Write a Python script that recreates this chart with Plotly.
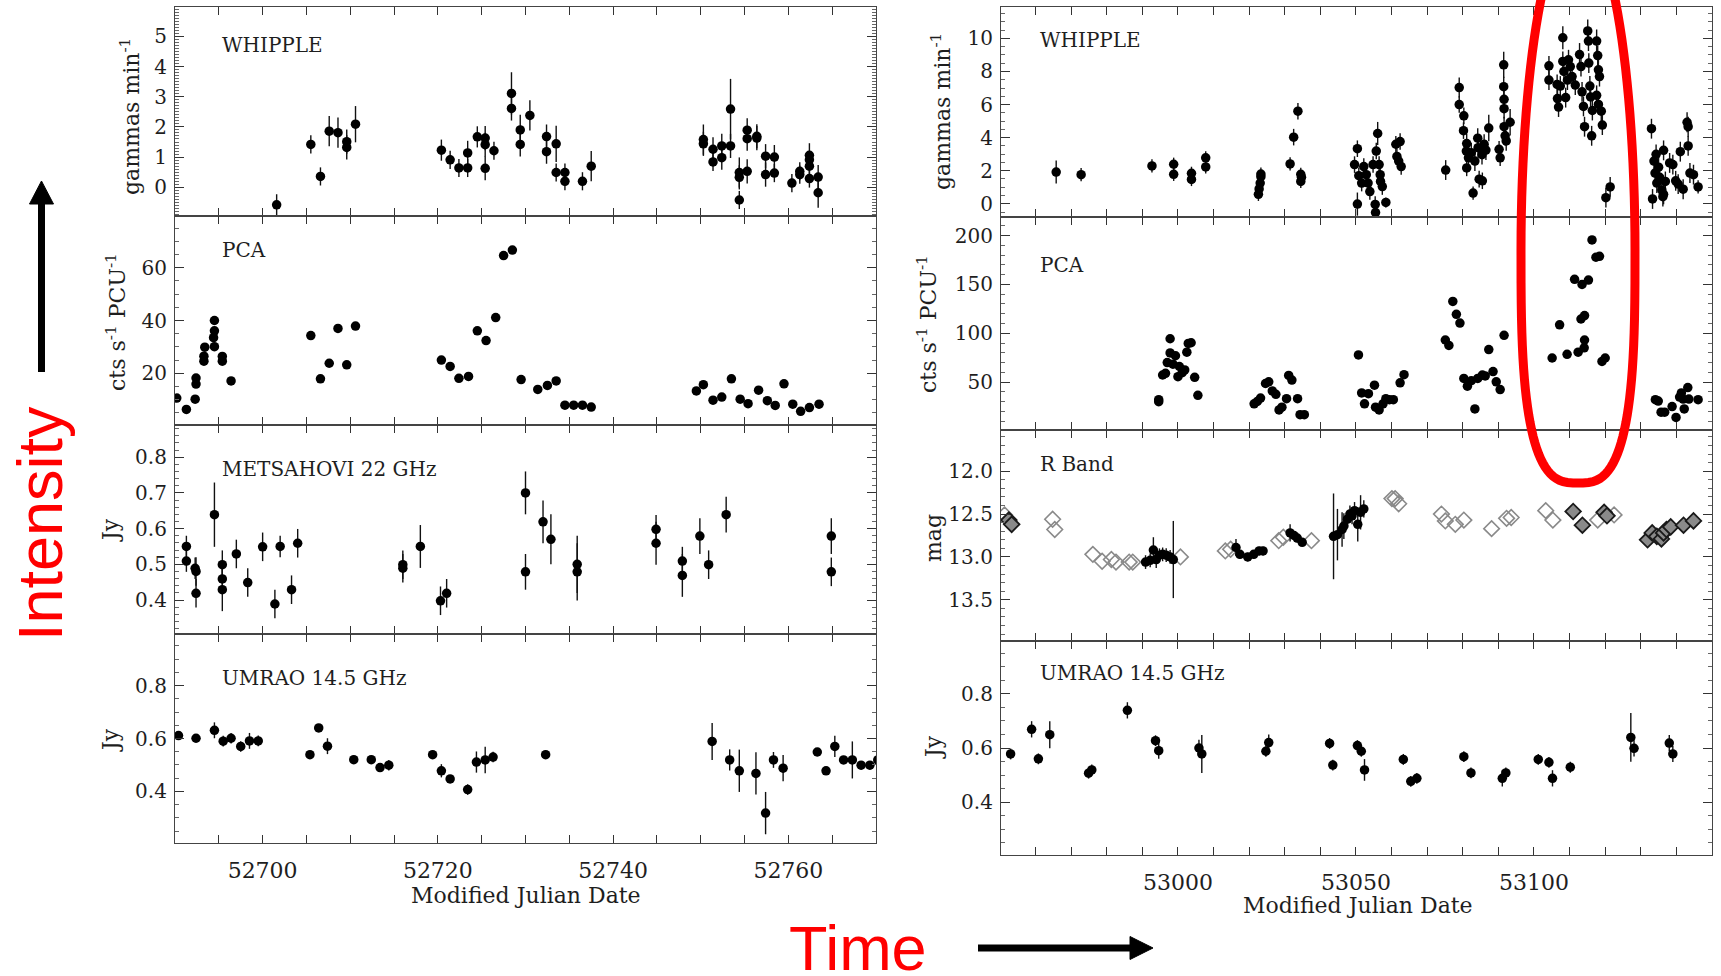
import plotly.graph_objects as go
import numpy as np

W, H = 1721, 976


def px(x):
    return x / W


def py(y):
    return 1 - y / H


# ------------------------------------------------------------------ data
# ---- left column (2003 campaign), MJD 52690 - 52770
L_whip_day = [52701.6, 52705.5, 52706.6, 52707.6, 52708.6, 52709.6, 52709.6, 52710.6,
              52720.4, 52721.4, 52722.4, 52723.4, 52723.4, 52724.5, 52725.4, 52725.4, 52725.4,
              52726.4, 52728.4, 52728.4, 52729.4, 52729.4, 52730.5, 52732.4, 52732.4, 52733.5,
              52733.5, 52734.5, 52734.5, 52736.5, 52737.5,
              52750.3, 52750.3, 52751.4, 52751.4, 52752.4, 52752.4, 52753.4, 52753.4, 52754.4,
              52754.4, 52754.4, 52755.3, 52755.3, 52755.3, 52756.4, 52756.4, 52757.4, 52757.4,
              52758.4, 52758.4, 52760.4, 52761.3, 52761.3, 52762.4, 52762.4, 52762.4, 52762.4,
              52763.4, 52763.4]
L_whip_val = [-0.58, 1.42, 0.36, 1.86, 1.81, 1.51, 1.32, 2.09,
              1.23, 0.91, 0.64, 0.64, 1.14, 1.67, 1.63, 1.41, 0.63,
              1.21, 3.11, 2.61, 1.90, 1.42, 2.38, 1.68, 1.18, 1.44,
              0.49, 0.49, 0.20, 0.20, 0.70,
              1.58, 1.44, 1.26, 0.84, 1.37, 0.98, 2.59, 1.37, 0.49,
              0.33, -0.42, 1.89, 1.61, 0.53, 1.69, 1.63, 1.03, 0.42,
              1.00, 0.47, 0.14, 0.53, 0.42, 1.06, 0.91, 0.70, 0.29,
              0.34, -0.18]
L_whip_err = [0.35, 0.3, 0.3, 0.5, 0.5, 0.4, 0.4, 0.6,
              0.35, 0.3, 0.3, 0.3, 0.4, 0.35, 0.4, 0.4, 0.4,
              0.3, 0.7, 0.4, 0.5, 0.4, 0.5, 0.4, 0.4, 0.6,
              0.3, 0.3, 0.3, 0.3, 0.5,
              0.5, 0.4, 0.4, 0.3, 0.4, 0.4, 1.0, 0.4, 0.5,
              0.4, 0.3, 0.4, 0.4, 0.4, 0.4, 0.4, 0.4, 0.4,
              0.4, 0.3, 0.3, 0.3, 0.3, 0.4, 0.3, 0.3, 0.3,
              0.4, 0.5]

L_pca_day = [52690.2, 52691.3, 52692.3, 52692.4, 52692.4, 52693.3, 52693.3, 52693.4, 52694.5,
             52694.4, 52694.5, 52694.5, 52695.4, 52695.4, 52696.4,
             52705.5, 52706.6, 52707.6, 52708.6, 52709.6, 52710.6,
             52720.4, 52721.4, 52722.4, 52723.5, 52724.5, 52725.5, 52726.6, 52727.5, 52728.5,
             52729.5, 52731.4, 52732.5, 52733.5, 52734.5, 52735.5, 52736.5, 52737.5,
             52749.5, 52750.3, 52751.4, 52752.4, 52753.5, 52754.5, 52755.4, 52756.6, 52757.6,
             52758.5, 52759.5, 52760.5, 52761.4, 52762.4, 52763.5]
L_pca_val = [10.6, 6.3, 10.2, 15.9, 18.2, 24.6, 26.5, 29.9, 30.1,
             33.5, 36.1, 40.0, 24.6, 26.4, 17.1,
             34.3, 17.9, 23.8, 37.0, 23.2, 37.9,
             25.0, 22.6, 18.1, 18.8, 36.1, 32.4, 41.1, 64.6, 66.7,
             17.6, 13.9, 15.4, 17.1, 7.9, 7.9, 7.9, 7.2,
             13.3, 15.7, 9.8, 11.0, 17.9, 10.2, 8.5, 13.6, 9.6,
             7.8, 16.0, 8.3, 5.6, 7.0, 8.3]

L_met_day = [52691.3, 52691.3, 52692.3, 52692.4, 52692.4, 52694.5, 52695.4, 52695.4, 52695.4,
             52697.0, 52698.3, 52700.0, 52701.4, 52702.0, 52703.3, 52704.0,
             52716.0, 52716.0, 52718.0, 52720.3, 52721.0,
             52730.0, 52730.0, 52732.0, 52732.9, 52735.9, 52735.9,
             52744.9, 52744.9, 52747.9, 52747.9, 52749.9, 52750.9, 52752.9, 52764.9, 52764.9]
L_met_val = [0.550, 0.509, 0.489, 0.480, 0.419, 0.639, 0.499, 0.459, 0.429,
             0.529, 0.449, 0.549, 0.389, 0.550, 0.429, 0.559,
             0.499, 0.489, 0.550, 0.398, 0.419,
             0.700, 0.479, 0.619, 0.570, 0.500, 0.479,
             0.598, 0.559, 0.509, 0.469, 0.579, 0.499, 0.639, 0.579, 0.479]
L_met_err = [0.03, 0.03, 0.03, 0.04, 0.04, 0.09, 0.04, 0.04, 0.06,
             0.04, 0.04, 0.04, 0.04, 0.03, 0.04, 0.04,
             0.04, 0.04, 0.06, 0.04, 0.04,
             0.06, 0.05, 0.06, 0.07, 0.08, 0.08,
             0.04, 0.06, 0.04, 0.06, 0.05, 0.04, 0.05, 0.05, 0.04]

L_umr_day = [52690.4, 52692.4, 52694.5, 52695.5, 52696.4, 52697.5, 52698.5, 52699.5,
             52705.4, 52706.4, 52707.4, 52710.4, 52712.4, 52713.4, 52714.4,
             52719.4, 52720.4, 52721.4, 52723.4, 52724.4, 52725.4, 52726.3, 52732.3,
             52751.3, 52753.3, 52754.4, 52756.3, 52757.4, 52758.3, 52759.4,
             52763.3, 52764.3, 52765.3, 52766.3, 52767.3, 52768.3, 52769.3, 52770.2]
L_umr_val = [0.611, 0.601, 0.631, 0.590, 0.601, 0.570, 0.591, 0.591,
             0.539, 0.640, 0.571, 0.520, 0.520, 0.490, 0.499,
             0.539, 0.478, 0.447, 0.407, 0.511, 0.519, 0.530, 0.539,
             0.589, 0.519, 0.478, 0.468, 0.318, 0.519, 0.488,
             0.549, 0.478, 0.570, 0.519, 0.519, 0.499, 0.499, 0.519]
L_umr_err = [0.015, 0.01, 0.03, 0.02, 0.02, 0.02, 0.03, 0.02,
             0.015, 0.015, 0.03, 0.015, 0.015, 0.015, 0.02,
             0.015, 0.025, 0.015, 0.02, 0.04, 0.05, 0.02, 0.015,
             0.07, 0.04, 0.08, 0.08, 0.08, 0.03, 0.05,
             0.015, 0.015, 0.04, 0.015, 0.07, 0.015, 0.015, 0.015]

# ---- right column (2004 campaign), MJD 52950 - 53150
R_whip_day = [52965.8, 52972.8, 52992.7, 52998.8, 52998.8, 53003.8, 53003.8, 53007.8, 53007.8,
              53022.6, 53022.8, 53023.1, 53023.3, 53023.3, 53031.5, 53032.5, 53033.7, 53034.5,
              53034.5, 53034.7,
              53049.6, 53050.4, 53050.4, 53050.8, 53051.6, 53052.2, 53052.9, 53053.4, 53053.9,
              53054.8, 53055.4, 53055.5, 53055.7, 53056.1, 53056.5, 53056.8, 53056.9, 53057.4,
              53058.4, 53061.2, 53061.5, 53062.0, 53062.7, 53062.4,
              53075.2, 53079.0, 53079.0, 53080.3, 53080.2, 53081.1, 53081.0, 53081.1, 53081.6,
              53082.4, 53082.9, 53083.4, 53084.2, 53084.3, 53084.6, 53085.4, 53085.5, 53086.0,
              53086.5, 53087.3, 53090.2, 53090.5, 53091.5, 53091.5, 53091.6, 53091.6, 53091.6,
              53091.9, 53092.2, 53093.3,
              53104.2, 53104.2, 53106.5, 53106.6, 53106.9, 53107.4, 53108.1, 53108.1, 53108.4,
              53108.9, 53109.4, 53109.7, 53110.2, 53110.7, 53111.6, 53112.8, 53113.2, 53113.5,
              53113.9, 53114.2, 53115.1, 53115.3, 53115.4, 53115.7, 53115.9, 53116.2, 53116.4,
              53117.6, 53117.9, 53118.1, 53118.4, 53117.6, 53118.1, 53118.9, 53119.2, 53120.2,
              53121.4,
              53133.0, 53133.3, 53133.7, 53134.0, 53134.3, 53134.5, 53135.0, 53135.3, 53135.9,
              53136.2, 53136.4, 53136.4, 53136.9, 53138.1, 53139.0, 53139.8, 53140.5, 53141.1,
              53141.9, 53143.0, 53143.3, 53143.3, 53143.8, 53144.8, 53146.1]
R_whip_val = [1.92, 1.76, 2.29, 2.39, 1.78, 1.84, 1.47, 2.78, 2.23,
              0.57, 0.90, 1.25, 1.64, 1.80, 2.41, 4.03, 5.60, 1.78,
              1.35, 1.60,
              2.37, 3.33, -0.02, 1.70, 1.25, 2.25, 1.76, 1.25, 0.74,
              2.37, -0.04, -0.53, 3.19, 4.25, 2.37, 1.76, 1.35, 1.04,
              0.08, 3.60, 2.86, 2.58, 2.25, 3.76,
              2.04, 7.03, 6.00, 5.32, 4.42, 3.64, 3.19, 2.17, 2.78,
              3.09, 0.65, 2.58, 3.97, 3.39, 1.49, 2.97, 1.39, 3.60,
              3.25, 4.58, 3.29, 2.78, 8.40, 7.08, 6.32, 5.75, 4.66,
              4.11, 3.80, 4.93,
              8.34, 7.48, 7.22, 6.36, 5.85, 7.12, 10.04, 8.61, 8.00,
              6.42, 7.48, 8.71, 8.30, 7.69, 7.18, 9.02, 8.30, 6.77,
              5.89, 4.66, 10.45, 9.84, 8.51, 7.12, 6.46, 4.11, 5.64,
              9.84, 8.96, 8.10, 7.69, 6.56, 6.01, 5.60, 4.76, 0.37,
              1.02,
              4.54, 0.29, 2.58, 1.86, 2.99, 1.25, 2.21, 1.60, 0.84,
              0.43, 0.57, 3.23, 1.35, 2.47, 2.37, 1.39, 1.19, 3.15,
              0.88, 4.93, 4.66, 3.50, 1.86, 1.76, 1.02]
R_whip_err = [0.7, 0.4, 0.4, 0.4, 0.4, 0.4, 0.4, 0.4, 0.4,
              0.4, 0.4, 0.4, 0.4, 0.4, 0.4, 0.5, 0.5, 0.4,
              0.4, 0.4,
              0.5, 0.5, 0.7, 0.5, 0.5, 0.5, 0.5, 0.5, 0.5,
              0.5, 0.5, 0.5, 0.5, 0.7, 0.5, 0.5, 0.5, 0.5,
              0.3, 0.5, 0.5, 0.5, 0.5, 0.5,
              0.6, 0.6, 0.5, 0.5, 0.5, 0.6, 0.6, 0.5, 0.6,
              0.6, 0.4, 0.6, 0.6, 0.6, 0.5, 0.6, 0.5, 0.6,
              0.6, 0.8, 0.5, 0.5, 0.8, 0.6, 0.6, 0.6, 0.6,
              0.6, 0.6, 0.8,
              0.6, 0.6, 0.6, 0.6, 0.6, 0.6, 0.7, 0.6, 0.6,
              0.6, 0.6, 0.6, 0.6, 0.6, 0.6, 0.7, 0.6, 0.6,
              0.6, 0.6, 0.7, 0.6, 0.6, 0.6, 0.6, 0.6, 0.6,
              0.7, 0.6, 0.6, 0.6, 0.6, 0.6, 0.6, 0.6, 0.6,
              0.6,
              0.6, 0.6, 0.6, 0.6, 0.6, 0.6, 0.6, 0.6, 0.6,
              0.6, 0.6, 0.6, 0.6, 0.6, 0.6, 0.6, 0.6, 0.6,
              0.6, 0.6, 0.6, 0.6, 0.6, 0.6, 0.4]

R_pca_day = [52994.6, 52994.6, 52995.7, 52996.5, 52997.8, 52997.8, 52997.0, 52998.6, 52999.3,
             53000.0, 53000.4, 53001.2, 53001.9, 53002.5, 53002.9, 53003.7, 53004.7, 53005.6,
             53021.4, 53022.3, 53023.2, 53024.6, 53025.5, 53026.5, 53027.5, 53028.4, 53029.2,
             53030.5, 53031.1, 53032.0, 53033.6, 53034.3, 53035.5,
             53050.7, 53051.6, 53052.4, 53053.5, 53055.2, 53055.5, 53056.5, 53057.6, 53058.4,
             53059.4, 53060.5, 53062.4, 53063.5,
             53075.1, 53076.1, 53077.2, 53078.2, 53079.2, 53080.3, 53081.3, 53082.4, 53083.4,
             53084.2, 53085.5, 53086.3, 53087.3, 53088.5, 53089.4, 53090.5, 53091.6,
             53105.1, 53107.2, 53109.3, 53111.4, 53112.4, 53113.5, 53113.2, 53114.1, 53114.2,
             53114.2, 53115.3, 53116.3, 53117.4, 53118.4, 53119.1, 53120.0,
             53134.1, 53134.9, 53135.7, 53136.7, 53138.8, 53139.9, 53140.9, 53141.4, 53141.9,
             53142.2, 53143.2, 53143.5, 53146.1]
R_pca_val = [32.0, 30.0, 57.3, 59.0, 94.4, 79.9, 70.0, 68.4, 77.0,
             55.6, 66.0, 59.7, 62.5, 80.6, 89.6, 90.3, 54.9, 36.5,
             27.8, 30.2, 33.7, 48.6, 50.3, 41.0, 37.5, 21.5, 24.3,
             33.0, 56.9, 52.1, 33.0, 16.7, 16.7,
             77.8, 38.9, 27.8, 38.2, 46.9, 24.3, 21.5, 27.8, 33.0,
             32.0, 32.0, 49.3, 57.6,
             93.1, 87.5, 132.6, 119.4, 110.4, 53.8, 45.8, 51.4, 22.6,
             53.8, 57.3, 56.3, 83.3, 60.8, 50.3, 42.4, 97.9,
             74.7, 108.7, 78.5, 155.2, 80.6, 150.0, 114.6, 85.1, 118.1,
             93.1, 154.5, 195.5, 177.8, 178.8, 71.2, 74.7,
             32.0, 30.6, 19.2, 19.2, 25.0, 13.9, 34.7, 38.9, 32.6,
             22.6, 44.4, 32.6, 32.0]

R_rb_open_day = [52951.3, 52964.8, 52965.4, 52976.1, 52978.7, 52981.3, 52982.6, 52986.3, 52987.3,
                 53000.7, 53013.3, 53014.8, 53028.3, 53029.6, 53037.5, 53060.1, 53061.0, 53062.0,
                 53074.0, 53075.1, 53077.9, 53080.3, 53088.1, 53092.3, 53093.6, 53103.3, 53105.3,
                 53117.9, 53122.5]
R_rb_open_mag = [12.51, 12.56, 12.68, 12.97, 13.05, 13.03, 13.06, 13.06, 13.06,
                 13.00, 12.93, 12.91, 12.81, 12.77, 12.81, 12.32, 12.32, 12.38,
                 12.50, 12.58, 12.62, 12.57, 12.67, 12.55, 12.54, 12.46, 12.57,
                 12.57, 12.51]
R_rb_dark_day = [52952.5, 52953.3, 53111.0, 53113.6, 53119.7, 53120.5, 53131.9, 53133.2, 53134.5,
                 53135.8, 53136.4, 53137.2, 53138.4, 53142.0, 53144.8]
R_rb_dark_mag = [12.57, 12.62, 12.47, 12.63, 12.48, 12.52, 12.80, 12.72, 12.76,
                 12.79, 12.72, 12.68, 12.65, 12.63, 12.58]
R_rb_fill_day = [52990.9, 52992.2, 52993.1, 52993.9, 52994.8, 52995.7, 52996.7, 52997.8, 52998.7,
                 53016.3, 53017.4, 53019.6, 53021.3, 53022.8, 53023.9,
                 53031.5, 53032.6, 53033.5, 53034.9,
                 53043.7, 53044.8, 53046.1, 53046.6, 53047.6, 53048.3, 53048.9, 53049.6, 53050.5,
                 53051.3, 53052.2]
R_rb_fill_mag = [13.06, 13.04, 12.92, 13.03, 12.98, 12.97, 12.98, 13.00, 13.03,
                 12.89, 12.97, 13.00, 12.97, 12.93, 12.93,
                 12.72, 12.75, 12.78, 12.83,
                 12.76, 12.74, 12.68, 12.64, 12.56, 12.50, 12.52, 12.46, 12.62,
                 12.48, 12.44]
R_rb_fill_err = [0.08, 0.08, 0.15, 0.10, 0.08, 0.08, 0.08, 0.08, 0.45,
                 0.10, 0.05, 0.05, 0.05, 0.05, 0.05,
                 0.10, 0.05, 0.05, 0.04,
                 0.50, 0.30, 0.20, 0.15, 0.10, 0.10, 0.10, 0.10, 0.20,
                 0.20, 0.10]

R_umr_day = [52953.0, 52958.9, 52960.8, 52964.0, 52974.9, 52975.8, 52985.8, 52993.7, 52994.6,
             53005.9, 53006.7, 53024.7, 53025.5, 53042.6, 53043.5, 53050.4, 53051.5, 53052.4,
             53063.3, 53065.4, 53067.1, 53080.3, 53082.3, 53091.1, 53092.1, 53101.2, 53104.2,
             53105.2, 53110.2, 53127.2, 53128.1, 53138.0, 53139.0]
R_umr_val = [0.578, 0.669, 0.560, 0.649, 0.507, 0.519, 0.739, 0.627, 0.590,
             0.600, 0.578, 0.588, 0.620, 0.617, 0.537, 0.609, 0.588, 0.519,
             0.558, 0.477, 0.488, 0.568, 0.508, 0.488, 0.508, 0.558, 0.547,
             0.488, 0.529, 0.639, 0.599, 0.618, 0.578]
R_umr_err = [0.02, 0.03, 0.02, 0.05, 0.02, 0.02, 0.03, 0.02, 0.03,
             0.03, 0.07, 0.02, 0.03, 0.02, 0.02, 0.02, 0.02, 0.04,
             0.02, 0.02, 0.02, 0.02, 0.02, 0.03, 0.02, 0.02, 0.02,
             0.03, 0.02, 0.09, 0.03, 0.03, 0.03]

# ------------------------------------------------------------------ layout
SERIF = "DejaVu Serif"
SANS = "Liberation Sans"
INK = "#1e1e1e"

LX = (175, 876)
RX = (1001, 1712)
L_ROWS = [(7, 216), (216, 425), (425, 634), (634, 843)]
R_ROWS = [(7, 217), (217, 430), (430, 641), (641, 855)]

# (xpix, ypix, xrange, yrange, xdtick, xminor, ydtick, yminor, ytickformat, xlabels)
panels = [
    (LX, L_ROWS[0], [52690, 52770], [-0.95, 5.97], 20, 5, 1, 0.1, "d", False),
    (LX, L_ROWS[1], [52690, 52770], [0.4, 79.6], 20, 5, 20, 5, "d", False),
    (LX, L_ROWS[2], [52690, 52770], [0.305, 0.89], 20, 5, 0.1, 0.02, ".1f", False),
    (LX, L_ROWS[3], [52690, 52770], [0.205, 0.995], 20, 5, 0.2, 0.05, ".1f", True),
    (RX, R_ROWS[0], [52950.3, 53150], [-0.8, 11.9], 50, 10, 2, 0.5, "d", False),
    (RX, R_ROWS[1], [52950.3, 53150], [1, 219], 50, 10, 50, 10, "d", False),
    (RX, R_ROWS[2], [52950.3, 53150], [13.98, 11.52], 50, 10, 0.5, 0.1, ".1f", False),
    (RX, R_ROWS[3], [52950.3, 53150], [0.205, 0.995], 50, 10, 0.2, 0.05, ".1f", True),
]

layout = dict(width=W, height=H, autosize=False, margin=dict(l=0, r=0, t=0, b=0, pad=0),
              paper_bgcolor="white", plot_bgcolor="white", showlegend=False)

for i, (xp, yp, xr, yr, xd, xm, yd, ym, yfmt, xlab) in enumerate(panels, start=1):
    sfx = "" if i == 1 else str(i)
    common = dict(showline=True, linecolor="#444444", linewidth=1.2, mirror="allticks",
                  ticks="inside", tickcolor="#333333", tickwidth=1.2, showgrid=False,
                  zeroline=False, automargin=False)
    layout["xaxis" + sfx] = dict(
        common, domain=[px(xp[0]), px(xp[1])], range=xr, anchor="y" + sfx,
        tick0=0, dtick=xd, ticklen=8, tickformat="d", showticklabels=xlab,
        ticklabelstandoff=7, tickfont=dict(family=SERIF, size=22, color=INK),
        minor=dict(ticks="inside", dtick=xm, tick0=0, ticklen=8, tickcolor="#333333",
                   tickwidth=1.2, showgrid=False))
    layout["yaxis" + sfx] = dict(
        common, domain=[py(yp[1]), py(yp[0])], range=yr, anchor="x" + sfx,
        tick0=0, dtick=yd, ticklen=9, tickformat=yfmt, ticklabelstandoff=3,
        tickfont=dict(family=SERIF, size=20, color=INK),
        minor=dict(ticks="inside", dtick=ym, tick0=0, ticklen=4, tickcolor="#666666",
                   tickwidth=1, showgrid=False))

fig = go.Figure(layout=layout)


def add(n, x, y, err=None, symbol="circle", size=9.5, color="black", line_color="black",
        line_width=0):
    sfx = "" if n == 1 else str(n)
    kw = {}
    if err is not None:
        kw["error_y"] = dict(type="data", array=err, visible=True, thickness=1.4, width=0,
                             color="#111111")
    fig.add_trace(go.Scatter(x=x, y=y, mode="markers", xaxis="x" + sfx, yaxis="y" + sfx,
                             marker=dict(symbol=symbol, size=size, color=color,
                                         line=dict(color=line_color, width=line_width)),
                             hoverinfo="skip", showlegend=False, **kw))


add(1, L_whip_day, L_whip_val, L_whip_err)
add(2, L_pca_day, L_pca_val)
add(3, L_met_day, L_met_val, L_met_err)
add(4, L_umr_day, L_umr_val, L_umr_err)
add(5, R_whip_day, R_whip_val, R_whip_err)
add(6, R_pca_day, R_pca_val)
add(7, R_rb_open_day, R_rb_open_mag, symbol="diamond-open", size=12, color="#8a8a8a",
    line_color="#8a8a8a", line_width=1.6)
add(7, R_rb_fill_day, R_rb_fill_mag, R_rb_fill_err)
add(7, R_rb_dark_day, R_rb_dark_mag, symbol="diamond", size=12, color="#8a8a8a",
    line_color="#1a1a1a", line_width=1.8)
add(8, R_umr_day, R_umr_val, R_umr_err)

# ------------------------------------------------------------------ annotations
ann = []


def text(x, y, s, size=19, angle=0, xanchor="left", family=SERIF, color=INK):
    ann.append(dict(x=px(x), y=py(y), xref="paper", yref="paper", text=s, showarrow=False,
                    textangle=angle, xanchor=xanchor, yanchor="middle",
                    font=dict(family=family, size=size, color=color)))


# panel names
for (x, y, s) in [(220, 45, "WHIPPLE"), (220, 250, "PCA"), (220, 469, "METSAHOVI 22 GHz"),
                  (220, 678, "UMRAO 14.5 GHz"), (1038, 40, "WHIPPLE"), (1038, 265, "PCA"),
                  (1038, 464, "R Band"), (1038, 673, "UMRAO 14.5 GHz")]:
    text(x, y, s, size=20)

# y axis titles
for (x, y, s) in [(130, 117, "gammas min<sup>-1</sup>"), (116, 322, "cts s<sup>-1</sup> PCU<sup>-1</sup>"),
                  (110, 530, "Jy"), (110, 740, "Jy"),
                  (941, 112, "gammas min<sup>-1</sup>"), (927, 324, "cts s<sup>-1</sup> PCU<sup>-1</sup>"),
                  (933, 538, "mag"), (933, 747, "Jy")]:
    text(x, y, s, size=22, angle=-90, xanchor="center")

# x axis titles
text(526, 895, "Modified Julian Date", size=22, xanchor="center")
text(1358, 905, "Modified Julian Date", size=22, xanchor="center")

# big red words
text(40, 524, "Intensity", size=63, angle=-90, xanchor="center", family=SANS, color="#ff0000")
text(858, 948, "Time", size=63, xanchor="center", family=SANS, color="#ff0000")

fig.update_layout(annotations=ann)

# ------------------------------------------------------------------ shapes
shapes = []


def line(x0, y0, x1, y1, w):
    shapes.append(dict(type="line", xref="paper", yref="paper", x0=px(x0), y0=py(y0),
                       x1=px(x1), y1=py(y1), line=dict(color="black", width=w)))


def tri(pts):
    d = "M " + " L ".join(f"{px(a):.5f},{py(b):.5f}" for a, b in pts) + " Z"
    shapes.append(dict(type="path", xref="paper", yref="paper", path=d,
                       fillcolor="black", line=dict(color="black", width=1)))


# vertical arrow
line(41.5, 372, 41.5, 200, 7)
tri([(29.5, 204), (53.5, 204), (41.5, 181)])
# horizontal arrow
line(978, 948, 1134, 948, 7)
tri([(1130, 936.5), (1130, 959.5), (1153, 948)])

# red highlight loop (egg-shaped)
cx, cy, a, bu, bl = 1578, 250, 57, 330, 233
t_up = np.linspace(0, np.pi, 60)
t_lo = np.linspace(np.pi, 2 * np.pi, 60)
pts = [(cx + a * np.cos(t), cy - bu * np.sin(t)) for t in t_up]
for t in t_lo:
    c, s = np.cos(t), np.sin(t)
    pts.append((cx + a * np.sign(c) * abs(c) ** (2 / 3), cy + bl * abs(s) ** (2 / 3)))
loop = "M " + " L ".join(f"{px(x):.5f},{py(y):.5f}" for x, y in pts) + " Z"
shapes.append(dict(type="path", xref="paper", yref="paper", path=loop,
                   line=dict(color="#ff0000", width=9), fillcolor="rgba(0,0,0,0)"))

fig.update_layout(shapes=shapes)

fig.write_html("out.html")
